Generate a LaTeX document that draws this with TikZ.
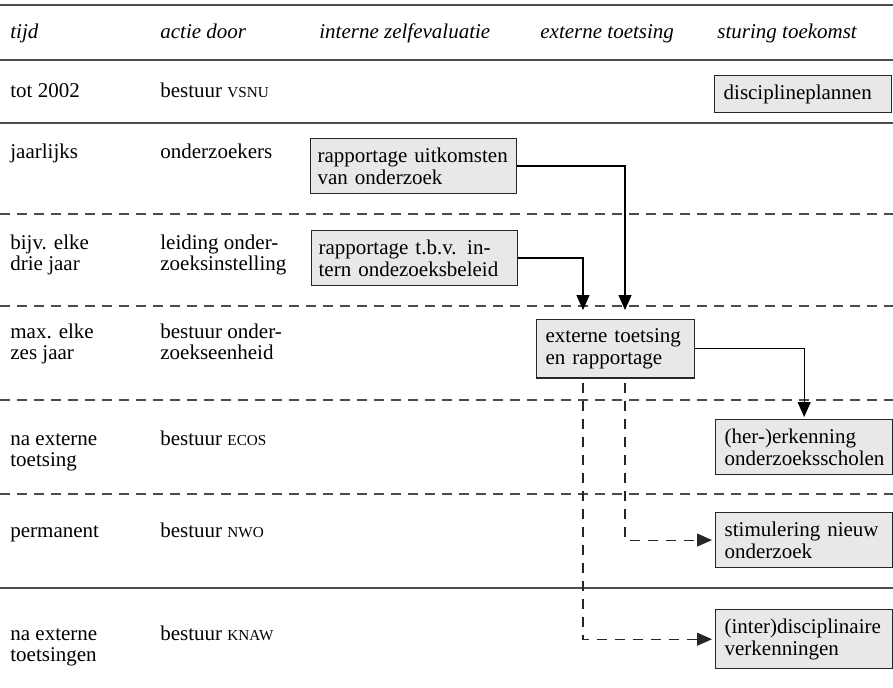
\documentclass[tikz,border=0pt]{standalone}
\usepackage{fontspec}
\setmainfont{Liberation Serif}
\usetikzlibrary{arrows.meta}
\newcommand{\acro}[1]{{\fontsize{7.6}{9}\selectfont #1}}
\newcommand{\nohyph}{\hyphenpenalty=10000\relax}

\begin{document}
\begin{tikzpicture}[x=0.5pt, y=-0.5pt,
    font=\fontsize{10.5}{11}\selectfont,
    box/.style={draw=black!85, fill=black!9, line width=0.65pt, align=left,
      inner xsep=4.5pt, inner ysep=4.5pt, anchor=north west,
      execute at begin node=\nohyph},
    leftbox/.style={box, inner xsep=3.5pt, text width=96pt},
    rightbox/.style={box, text width=79.5pt},
    lbl/.style={anchor=base west, align=left, inner sep=0pt,
      font=\fontsize{10.5}{10.3}\selectfont},
    hdr/.style={anchor=base west, inner sep=0pt, font=\fontsize{10.5}{11}\selectfont\itshape},
    rule/.style={black!70, line width=0.6pt},
    rowsep/.style={black!70, line width=0.6pt, dash pattern=on 5pt off 3.5pt},
    flow/.style={-{Triangle[length=7.5pt, width=6.5pt]}, line width=0.55pt},
    dflow/.style={flow, black!85, dash pattern=on 5pt off 4pt}]
    \useasboundingbox (0,0) rectangle (893,687);

    % Header
    \draw[rule] (0,5) -- (893,5);
    \node[hdr] (hTijd) at (10,38) {tijd};
    \node[hdr] (hActie) at (160,38) {actie door};
    \node[hdr] (hIntern) at (319,38) {interne zelfevaluatie};
    \node[hdr] (hExtern) at (540,38) {externe toetsing};
    \node[hdr] (hSturing) at (717,38) {sturing toekomst};
    \draw[rule] (0,60) -- (893,60);

    % Rows: when and who (two-line labels sit on their last baseline)
    \node[lbl] (tTot) at (10,97) {tot 2002};
    \node[lbl] (aTot) at (160,97) {bestuur \acro{VSNU}};
    \draw[rule] (0,123) -- (893,123);
    \node[lbl] (tJaar) at (10,158) {jaarlijks};
    \node[lbl] (aJaar) at (160,158) {onderzoekers};
    \draw[rowsep] (0,214) -- (893,214);
    \node[lbl] (tDrie) at (10,270) {bijv. elke\\drie jaar};
    \node[lbl] (aDrie) at (160,270) {leiding onder-\\zoeksinstelling};
    \draw[rowsep] (0,306) -- (893,306);
    \node[lbl] (tZes) at (10,359) {max. elke\\zes jaar};
    \node[lbl] (aZes) at (160,359) {bestuur onder-\\zoekseenheid};
    \draw[rowsep] (0,400) -- (893,400);
    \node[lbl] (tEcos) at (10,466) {na externe\\toetsing};
    \node[lbl] (aEcos) at (160,445) {bestuur \acro{ECOS}};
    \draw[rowsep] (0,494) -- (893,494);
    \node[lbl] (tNwo) at (10,537) {permanent};
    \node[lbl] (aNwo) at (160,537) {bestuur \acro{NWO}};
    \draw[rule] (0,588) -- (893,588);
    \node[lbl] (tKnaw) at (10,661) {na externe\\toetsingen};
    \node[lbl] (aKnaw) at (160,640) {bestuur \acro{KNAW}};

    % Boxes
    \node[rightbox] (plannen) at (714,75) {disciplineplannen};
    \node[leftbox] (uitkomst) at (310,138) {rapportage uitkomsten\\van onderzoek};
    \node[leftbox] (beleid) at (311,230) {rapportage t.b.v. in-\\tern ondezoeksbeleid};
    \node[box, text width=70pt] (toetsing) at (536,319) {externe toetsing\\en rapportage};
    \node[rightbox] (scholen) at (715,419) {(her-)erkenning\\onderzoeksscholen};
    \node[rightbox] (nieuw) at (715,512) {stimulering nieuw\\onderzoek};
    \node[rightbox] (verken) at (715,609) {(inter)disciplinaire\\verkenningen};

    % Connectors
    \draw[flow, shorten >=4.5pt] (uitkomst.east) -| ([xshift=44.5pt]toetsing.north west);
    \draw[flow, shorten >=4.5pt] (beleid.east) -| ([xshift=23.5pt]toetsing.north west);
    \draw[flow, shorten >=1pt] (toetsing.east) -| (scholen.north);
    \draw[dflow, shorten <=2pt, shorten >=1.5pt] ([xshift=44.5pt]toetsing.south west) |- (nieuw.west);
    \draw[dflow, shorten <=2pt, shorten >=1.5pt] ([xshift=23.5pt]toetsing.south west) |- (verken.west);
\end{tikzpicture}
\end{document}
